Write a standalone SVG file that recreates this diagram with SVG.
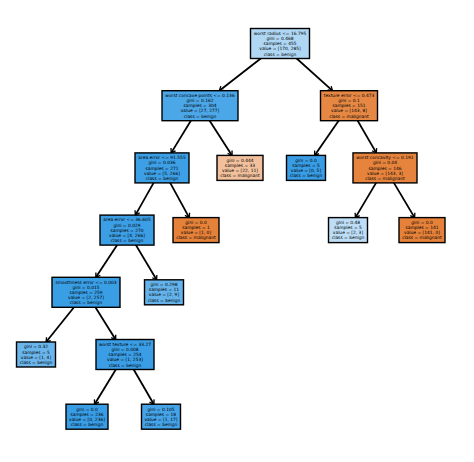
<svg xmlns="http://www.w3.org/2000/svg" width="474" height="462" viewBox="0 0 474 462">
<style>
.box{stroke:#000;stroke-width:1.4}
text{font-family:"DejaVu Sans","Liberation Sans",sans-serif;font-size:4.4px;text-anchor:middle;fill:#000}
.edge{stroke:#000;stroke-width:1.8;fill:none;marker-end:url(#ah)}
</style>
<defs>
<marker id="ah" markerUnits="userSpaceOnUse" markerWidth="8" markerHeight="8" viewBox="-4 -3 5 6" refX="0" refY="0" orient="auto">
<path d="M-3,-2 L0,0 L-3,2" fill="none" stroke="#000" stroke-width="1"/>
</marker>
</defs>
<rect width="474" height="462" fill="#fff"/>
<g id="connectors">
<line class="edge" x1="280" y1="43.5" x2="219.3" y2="90.7"/>
<line class="edge" x1="280" y1="43.5" x2="332.4" y2="90.7"/>
<line class="edge" x1="200" y1="105.7" x2="171.2" y2="152.9"/>
<line class="edge" x1="200" y1="105.7" x2="232.0" y2="155.4"/>
<line class="edge" x1="349" y1="105.7" x2="314.6" y2="155.4"/>
<line class="edge" x1="349" y1="105.7" x2="376.3" y2="152.9"/>
<line class="edge" x1="162" y1="167.9" x2="135.4" y2="215.1"/>
<line class="edge" x1="162" y1="167.9" x2="189.2" y2="217.6"/>
<line class="edge" x1="385" y1="167.9" x2="355.4" y2="217.6"/>
<line class="edge" x1="385" y1="167.9" x2="414.6" y2="217.6"/>
<line class="edge" x1="127" y1="230.1" x2="95.9" y2="277.3"/>
<line class="edge" x1="127" y1="230.1" x2="156.6" y2="279.8"/>
<line class="edge" x1="86" y1="292.3" x2="46.1" y2="342"/>
<line class="edge" x1="86" y1="292.3" x2="115.6" y2="339.5"/>
<line class="edge" x1="125" y1="354.5" x2="94.6" y2="404.2"/>
<line class="edge" x1="125" y1="354.5" x2="153.8" y2="404.2"/>
</g>
<g id="n1" transform="translate(280,43.5)">
<rect class="box" x="-29.5" y="-15" width="59" height="30" fill="#afd7f4"/>
<text><tspan x="0" y="-8.8">worst radius &lt;= 16.795</tspan><tspan x="0" y="-3.6">gini = 0.468</tspan><tspan x="0" y="1.6">samples = 455</tspan><tspan x="0" y="6.8">value = [170, 285]</tspan><tspan x="0" y="12">class = benign</tspan></text>
</g>
<g id="n2" transform="translate(200,105.7)">
<rect class="box" x="-38" y="-15" width="76" height="30" fill="#4ca7e8"/>
<text><tspan x="0" y="-8.8">worst concave points &lt;= 0.136</tspan><tspan x="0" y="-3.6">gini = 0.162</tspan><tspan x="0" y="1.6">samples = 304</tspan><tspan x="0" y="6.8">value = [27, 277]</tspan><tspan x="0" y="12">class = benign</tspan></text>
</g>
<g id="n3" transform="translate(349,105.7)">
<rect class="box" x="-28.5" y="-15" width="57" height="30" fill="#e68844"/>
<text><tspan x="0" y="-8.8">texture error &lt;= 0.473</tspan><tspan x="0" y="-3.6">gini = 0.1</tspan><tspan x="0" y="1.6">samples = 151</tspan><tspan x="0" y="6.8">value = [143, 8]</tspan><tspan x="0" y="12">class = malignant</tspan></text>
</g>
<g id="n4" transform="translate(162,167.9)">
<rect class="box" x="-27" y="-15" width="54" height="30" fill="#3d9fe5"/>
<text><tspan x="0" y="-8.8">area error &lt;= 91.555</tspan><tspan x="0" y="-3.6">gini = 0.036</tspan><tspan x="0" y="1.6">samples = 271</tspan><tspan x="0" y="6.8">value = [5, 266]</tspan><tspan x="0" y="12">class = benign</tspan></text>
</g>
<g id="n5" transform="translate(240,167.9)">
<rect class="box" x="-23" y="-12.5" width="46" height="25" fill="#f2c09c"/>
<text><tspan x="0" y="-6.2">gini = 0.444</tspan><tspan x="0" y="-1">samples = 33</tspan><tspan x="0" y="4.2">value = [22, 11]</tspan><tspan x="0" y="9.4">class = malignant</tspan></text>
</g>
<g id="n6" transform="translate(306,167.9)">
<rect class="box" x="-19.5" y="-12.5" width="39" height="25" fill="#399de5"/>
<text><tspan x="0" y="-6.2">gini = 0.0</tspan><tspan x="0" y="-1">samples = 5</tspan><tspan x="0" y="4.2">value = [0, 5]</tspan><tspan x="0" y="9.4">class = benign</tspan></text>
</g>
<g id="n7" transform="translate(385,167.9)">
<rect class="box" x="-32" y="-15" width="64" height="30" fill="#e6843d"/>
<text><tspan x="0" y="-8.8">worst concavity &lt;= 0.191</tspan><tspan x="0" y="-3.6">gini = 0.04</tspan><tspan x="0" y="1.6">samples = 146</tspan><tspan x="0" y="6.8">value = [143, 3]</tspan><tspan x="0" y="12">class = malignant</tspan></text>
</g>
<g id="n8" transform="translate(127,230.1)">
<rect class="box" x="-27" y="-15" width="54" height="30" fill="#3c9ee5"/>
<text><tspan x="0" y="-8.8">area error &lt;= 36.605</tspan><tspan x="0" y="-3.6">gini = 0.029</tspan><tspan x="0" y="1.6">samples = 270</tspan><tspan x="0" y="6.8">value = [4, 266]</tspan><tspan x="0" y="12">class = benign</tspan></text>
</g>
<g id="n9" transform="translate(196,230.1)">
<rect class="box" x="-23" y="-12.5" width="46" height="25" fill="#e58139"/>
<text><tspan x="0" y="-6.2">gini = 0.0</tspan><tspan x="0" y="-1">samples = 1</tspan><tspan x="0" y="4.2">value = [1, 0]</tspan><tspan x="0" y="9.4">class = malignant</tspan></text>
</g>
<g id="n10" transform="translate(348,230.1)">
<rect class="box" x="-19.5" y="-12.5" width="39" height="25" fill="#bddef6"/>
<text><tspan x="0" y="-6.2">gini = 0.48</tspan><tspan x="0" y="-1">samples = 5</tspan><tspan x="0" y="4.2">value = [2, 3]</tspan><tspan x="0" y="9.4">class = benign</tspan></text>
</g>
<g id="n11" transform="translate(422,230.1)">
<rect class="box" x="-23" y="-12.5" width="46" height="25" fill="#e58139"/>
<text><tspan x="0" y="-6.2">gini = 0.0</tspan><tspan x="0" y="-1">samples = 141</tspan><tspan x="0" y="4.2">value = [141, 0]</tspan><tspan x="0" y="9.4">class = malignant</tspan></text>
</g>
<g id="n12" transform="translate(86,292.3)">
<rect class="box" x="-34" y="-15" width="68" height="30" fill="#3a9ee5"/>
<text><tspan x="0" y="-8.8">smoothness error &lt;= 0.003</tspan><tspan x="0" y="-3.6">gini = 0.015</tspan><tspan x="0" y="1.6">samples = 259</tspan><tspan x="0" y="6.8">value = [2, 257]</tspan><tspan x="0" y="12">class = benign</tspan></text>
</g>
<g id="n13" transform="translate(164,292.3)">
<rect class="box" x="-19.5" y="-12.5" width="39" height="25" fill="#65b3eb"/>
<text><tspan x="0" y="-6.2">gini = 0.298</tspan><tspan x="0" y="-1">samples = 11</tspan><tspan x="0" y="4.2">value = [2, 9]</tspan><tspan x="0" y="9.4">class = benign</tspan></text>
</g>
<g id="n14" transform="translate(36,354.5)">
<rect class="box" x="-19.5" y="-12.5" width="39" height="25" fill="#6ab6ec"/>
<text><tspan x="0" y="-6.2">gini = 0.32</tspan><tspan x="0" y="-1">samples = 5</tspan><tspan x="0" y="4.2">value = [1, 4]</tspan><tspan x="0" y="9.4">class = benign</tspan></text>
</g>
<g id="n15" transform="translate(125,354.5)">
<rect class="box" x="-29" y="-15" width="58" height="30" fill="#3a9de5"/>
<text><tspan x="0" y="-8.8">worst texture &lt;= 33.27</tspan><tspan x="0" y="-3.6">gini = 0.008</tspan><tspan x="0" y="1.6">samples = 254</tspan><tspan x="0" y="6.8">value = [1, 253]</tspan><tspan x="0" y="12">class = benign</tspan></text>
</g>
<g id="n16" transform="translate(87,416.7)">
<rect class="box" x="-21" y="-12.5" width="42" height="25" fill="#399de5"/>
<text><tspan x="0" y="-6.2">gini = 0.0</tspan><tspan x="0" y="-1">samples = 236</tspan><tspan x="0" y="4.2">value = [0, 236]</tspan><tspan x="0" y="9.4">class = benign</tspan></text>
</g>
<g id="n17" transform="translate(161,416.7)">
<rect class="box" x="-19.5" y="-12.5" width="39" height="25" fill="#45a3e7"/>
<text><tspan x="0" y="-6.2">gini = 0.105</tspan><tspan x="0" y="-1">samples = 18</tspan><tspan x="0" y="4.2">value = [1, 17]</tspan><tspan x="0" y="9.4">class = benign</tspan></text>
</g>
</svg>
